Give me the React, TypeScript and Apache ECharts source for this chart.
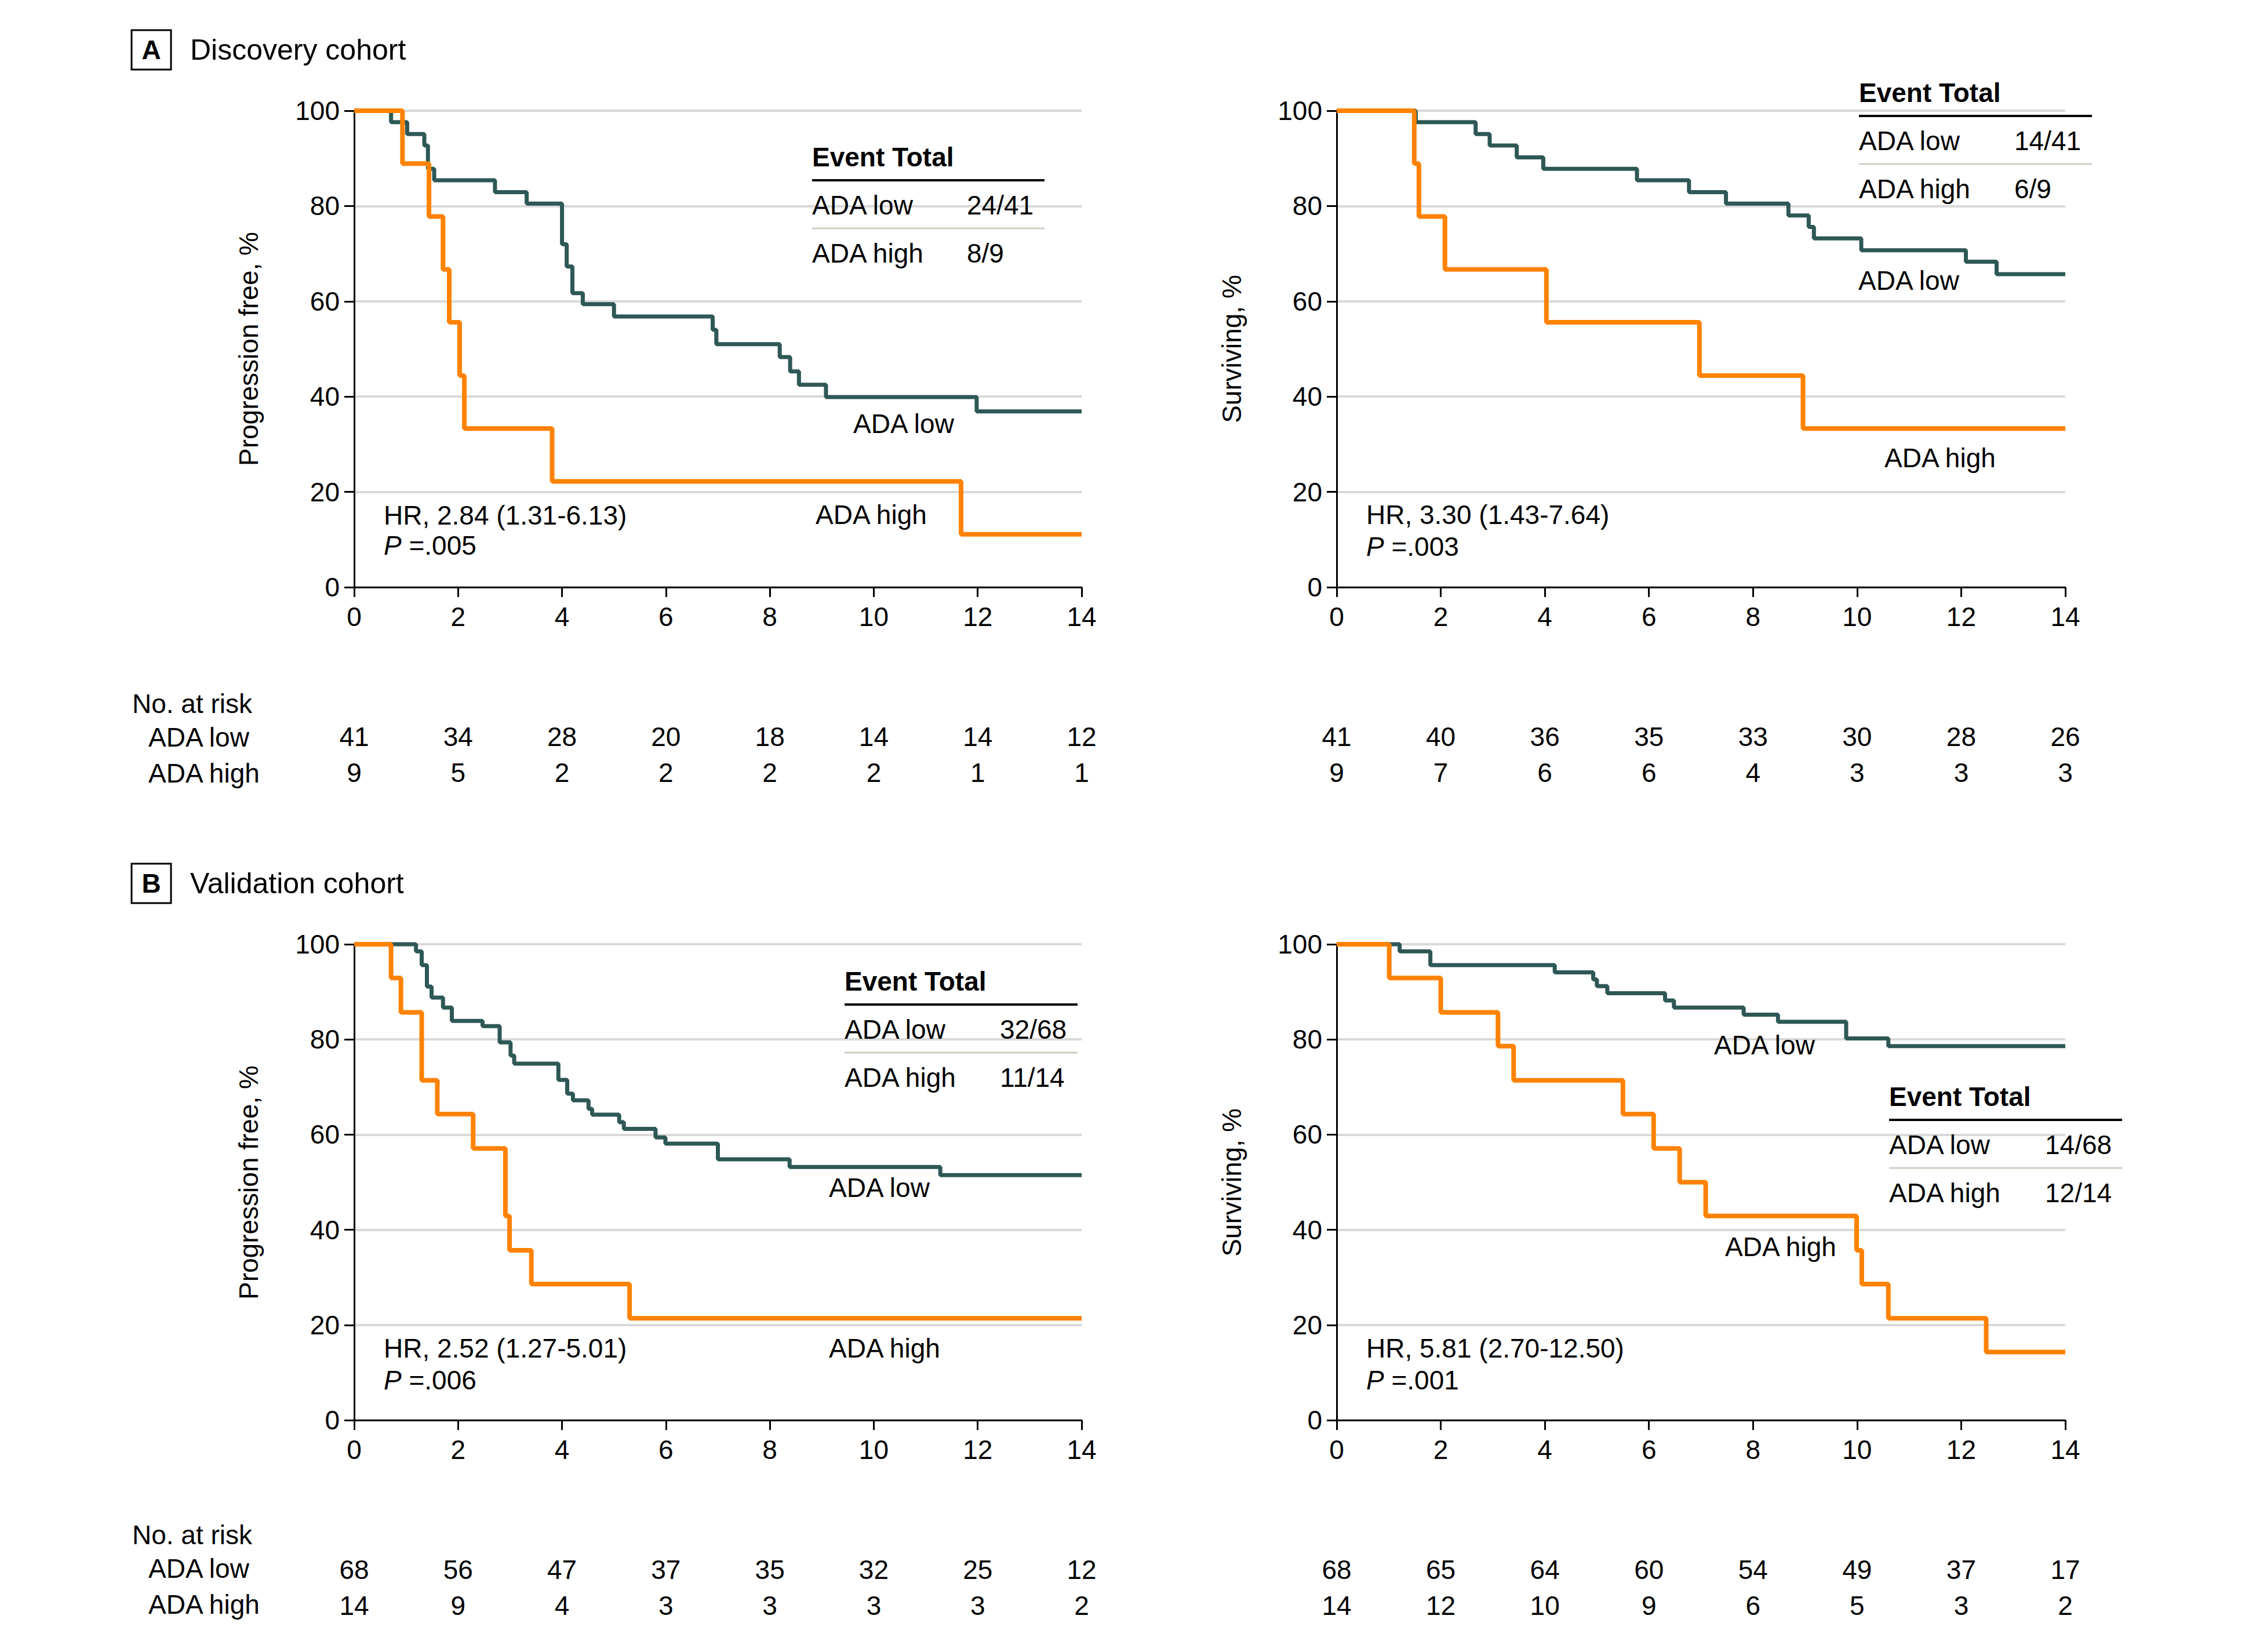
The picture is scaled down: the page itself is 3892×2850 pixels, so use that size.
import React, { useEffect, useRef } from 'react';
import * as echarts from 'echarts';

const FONT = '"Liberation Sans", Arial, sans-serif';
const TEAL = '#2E5856';
const ORANGE = '#FF8200';
const FS = 46;

// Shared axis ticks / risk time points (months)
const riskTimes = [0, 2, 4, 6, 8, 10, 12, 14];

// A – Discovery cohort, progression-free survival
const aPfsLowT = [0, 0.71, 1.02, 1.35, 1.42, 1.54, 2.71, 3.32, 4.0, 4.09, 4.2, 4.4, 5.0, 6.9, 6.97, 8.19, 8.39, 8.56, 9.08, 11.98, 14];
const aPfsLowS = [100, 97.6, 95.1, 92.7, 87.8, 85.4, 82.9, 80.5, 72.0, 67.3, 61.7, 59.4, 56.8, 54.0, 51.0, 48.3, 45.3, 42.5, 39.9, 36.9, 36.9];
const aPfsHighT = [0, 0.93, 1.44, 1.71, 1.83, 2.03, 2.12, 3.81, 11.68, 14];
const aPfsHighS = [100, 88.9, 77.8, 66.7, 55.6, 44.4, 33.3, 22.2, 11.1, 11.1];
const aPfsRiskLow = [41, 34, 28, 20, 18, 14, 14, 12];
const aPfsRiskHigh = [9, 5, 2, 2, 2, 2, 1, 1];

// A – Discovery cohort, overall survival
const aOsLowT = [0, 1.52, 2.67, 2.94, 3.46, 3.97, 5.77, 6.77, 7.48, 8.68, 9.07, 9.17, 10.08, 12.09, 12.68, 14];
const aOsLowS = [100, 97.6, 95.1, 92.7, 90.2, 87.8, 85.4, 82.9, 80.5, 78.0, 75.6, 73.2, 70.7, 68.3, 65.7, 65.7];
const aOsHighT = [0, 1.49, 1.58, 2.08, 4.03, 6.97, 8.96, 14];
const aOsHighS = [100, 88.9, 77.8, 66.7, 55.6, 44.4, 33.3, 33.3];
const aOsRiskLow = [41, 40, 36, 35, 33, 30, 28, 26];
const aOsRiskHigh = [9, 7, 6, 6, 4, 3, 3, 3];

// B – Validation cohort, progression-free survival
const bPfsLowT = [0, 1.19, 1.3, 1.4, 1.49, 1.71, 1.88, 2.47, 2.8, 3.01, 3.08, 3.93, 4.1, 4.21, 4.51, 4.58, 5.1, 5.19, 5.8, 5.99, 7.0, 8.38, 11.28, 14];
const bPfsLowS = [100, 98.5, 95.6, 91.1, 88.8, 86.7, 83.9, 82.8, 79.4, 76.6, 74.9, 71.5, 68.6, 67.2, 65.4, 64.2, 62.6, 61.2, 59.4, 58.1, 54.8, 53.2, 51.5, 51.5];
const bPfsHighT = [0, 0.71, 0.9, 1.3, 1.6, 2.29, 2.91, 2.99, 3.41, 5.3, 14];
const bPfsHighS = [100, 92.9, 85.7, 71.4, 64.3, 57.1, 42.9, 35.7, 28.6, 21.4, 21.4];
const bPfsRiskLow = [68, 56, 47, 37, 35, 32, 25, 12];
const bPfsRiskHigh = [14, 9, 4, 3, 3, 3, 3, 2];

// B – Validation cohort, overall survival
const bOsLowT = [0, 1.21, 1.8, 4.19, 4.93, 5.0, 5.2, 6.31, 6.48, 7.82, 8.48, 9.79, 10.6, 14];
const bOsLowS = [100, 98.5, 95.6, 94.1, 92.6, 91.2, 89.7, 88.2, 86.7, 85.2, 83.7, 80.2, 78.6, 78.6];
const bOsHighT = [0, 1.01, 2.0, 3.1, 3.4, 5.5, 6.09, 6.59, 7.09, 9.99, 10.09, 10.6, 12.48, 14];
const bOsHighS = [100, 92.9, 85.7, 78.6, 71.4, 64.3, 57.1, 50.0, 42.9, 35.7, 28.6, 21.4, 14.3, 14.3];
const bOsRiskLow = [68, 65, 64, 60, 54, 49, 37, 17];
const bOsRiskHigh = [14, 12, 10, 9, 6, 5, 3, 2];

const km = (t: number[], s: number[]) => t.map((v, i) => [v, s[i]]);

const panels = [
  { grid: { left: 611, top: 191, width: 1255, height: 822 }, low: km(aPfsLowT, aPfsLowS), high: km(aPfsHighT, aPfsHighS), riskTop: 1271, rLow: aPfsRiskLow, rHigh: aPfsRiskHigh },
  { grid: { left: 2306, top: 191, width: 1257, height: 822 }, low: km(aOsLowT, aOsLowS), high: km(aOsHighT, aOsHighS), riskTop: 1271, rLow: aOsRiskLow, rHigh: aOsRiskHigh },
  { grid: { left: 611, top: 1629, width: 1255, height: 821 }, low: km(bPfsLowT, bPfsLowS), high: km(bPfsHighT, bPfsHighS), riskTop: 2708, rLow: bPfsRiskLow, rHigh: bPfsRiskHigh },
  { grid: { left: 2306, top: 1629, width: 1257, height: 821 }, low: km(bOsLowT, bOsLowS), high: km(bOsHighT, bOsHighS), riskTop: 2708, rLow: bOsRiskLow, rHigh: bOsRiskHigh },
];

const txt = (x: number, y: number, text: string, extra: any = {}) => ({
  type: 'text',
  x,
  y,
  silent: true,
  rotation: extra.rotation || 0,
  z: 10,
  style: {
    text,
    fontSize: extra.fontSize || FS,
    fontFamily: FONT,
    fontWeight: extra.fontWeight || 'normal',
    fill: '#000',
    align: extra.align || 'left',
    textAlign: extra.align || 'left',
    verticalAlign: 'middle',
    textVerticalAlign: 'middle',
    rich: extra.rich,
  },
});

const hline = (x1: number, x2: number, y: number, color: string, w: number) => ({
  type: 'line',
  silent: true,
  shape: { x1, y1: y, x2, y2: y },
  style: { stroke: color, lineWidth: w },
});

const pText = (x: number, y: number, v: string) =>
  txt(x, y, '{i|P} =' + v, { rich: { i: { fontStyle: 'italic', fontSize: FS, fontFamily: FONT, fill: '#000' } } });

const eventTable = (x: number, numX: number, right: number, yTitle: number, lowTxt: string, highTxt: string) => {
  const d = 83;
  return [
    txt(x, yTitle, 'Event Total', { fontWeight: 'bold' }),
    hline(x, right, yTitle + 40, '#000', 4),
    txt(x, yTitle + d, 'ADA low'),
    txt(numX, yTitle + d, lowTxt),
    hline(x, right, yTitle + 123, '#c9d0c2', 3),
    txt(x, yTitle + 2 * d, 'ADA high'),
    txt(numX, yTitle + 2 * d, highTxt),
  ];
};

const header = (y: number, letter: string, title: string) => [
  { type: 'rect', silent: true, shape: { x: 227, y: y - 34, width: 68, height: 68 }, style: { fill: 'none', stroke: '#000', lineWidth: 3 } },
  txt(261, y, letter, { align: 'center', fontWeight: 'bold' }),
  txt(328, y, title, { fontSize: 50 }),
];

const riskLabels = (y: number) => [
  txt(228, y, 'No. at risk'),
  txt(256, y + 58, 'ADA low'),
  txt(256, y + 120, 'ADA high'),
];

function buildOption() {
  const grids: any[] = [];
  const xAxes: any[] = [];
  const yAxes: any[] = [];
  const series: any[] = [];
  panels.forEach((p, i) => {
    grids.push({ ...p.grid, containLabel: false });
    xAxes.push({
      type: 'value', gridIndex: i, min: 0, max: 14, interval: 2,
      axisLine: { show: true, onZero: false, lineStyle: { color: '#000', width: 3 } },
      axisTick: { show: true, length: 17, lineStyle: { color: '#000', width: 3 } },
      axisLabel: { fontSize: FS, fontFamily: FONT, color: '#000', margin: 28 },
      splitLine: { show: false },
    });
    yAxes.push({
      type: 'value', gridIndex: i, min: 0, max: 100, interval: 20,
      axisLine: { show: true, lineStyle: { color: '#000', width: 3 } },
      axisTick: { show: true, length: 17, lineStyle: { color: '#000', width: 3 } },
      axisLabel: { fontSize: FS, fontFamily: FONT, color: '#000', margin: 25 },
      splitLine: { show: true, lineStyle: { color: '#d9d9d9', width: 4 } },
    });
    series.push({
      type: 'line', xAxisIndex: i, yAxisIndex: i, data: p.low, step: 'end', showSymbol: false,
      lineStyle: { color: TEAL, width: 7 }, itemStyle: { color: TEAL }, z: 3, clip: false, silent: true,
    });
    series.push({
      type: 'line', xAxisIndex: i, yAxisIndex: i, data: p.high, step: 'end', showSymbol: false,
      lineStyle: { color: ORANGE, width: 8 }, itemStyle: { color: ORANGE }, z: 4, clip: false, silent: true,
    });
  });
  panels.forEach((p, i) => {
    const gi = 4 + i;
    grids.push({ left: p.grid.left, width: p.grid.width, top: p.riskTop, height: 62 });
    xAxes.push({ type: 'value', gridIndex: gi, min: 0, max: 14, show: false });
    yAxes.push({ type: 'value', gridIndex: gi, min: 0, max: 1, show: false });
    const data: any[] = [];
    riskTimes.forEach((t, k) => {
      data.push([t, 1, p.rLow[k]]);
      data.push([t, 0, p.rHigh[k]]);
    });
    series.push({
      type: 'custom', xAxisIndex: gi, yAxisIndex: gi, silent: true, data,
      renderItem: (_params: any, api: any) => {
        const pt = api.coord([api.value(0), api.value(1)]);
        return {
          type: 'text',
          x: pt[0],
          y: pt[1],
          style: {
            text: String(api.value(2)),
            fill: '#000',
            fontSize: FS,
            fontFamily: FONT,
            align: 'center',
            verticalAlign: 'middle',
          },
        };
      },
    });
  });

  const graphic: any[] = [
    ...header(86, 'A', 'Discovery cohort'),
    ...header(1524, 'B', 'Validation cohort'),
    txt(429, 602, 'Progression free, %', { rotation: Math.PI / 2, align: 'center' }),
    txt(2125, 602, 'Surviving, %', { rotation: Math.PI / 2, align: 'center' }),
    txt(429, 2040, 'Progression free, %', { rotation: Math.PI / 2, align: 'center' }),
    txt(2125, 2040, 'Surviving, %', { rotation: Math.PI / 2, align: 'center' }),
    // A left
    ...eventTable(1401, 1668, 1802, 271, '24/41', '8/9'),
    txt(1472, 731, 'ADA low'),
    txt(1407, 888, 'ADA high'),
    txt(662, 889, 'HR, 2.84 (1.31-6.13)'),
    pText(662, 941, '.005'),
    // A right
    ...eventTable(3207, 3475, 3609, 160, '14/41', '6/9'),
    txt(3206, 484, 'ADA low'),
    txt(3251, 790, 'ADA high'),
    txt(2357, 888, 'HR, 3.30 (1.43-7.64)'),
    pText(2357, 943, '.003'),
    // B left
    ...eventTable(1457, 1725, 1859, 1693, '32/68', '11/14'),
    txt(1430, 2049, 'ADA low'),
    txt(1430, 2326, 'ADA high'),
    txt(662, 2326, 'HR, 2.52 (1.27-5.01)'),
    pText(662, 2381, '.006'),
    // B right
    ...eventTable(3259, 3528, 3661, 1892, '14/68', '12/14'),
    txt(2957, 1803, 'ADA low'),
    txt(2976, 2151, 'ADA high'),
    txt(2357, 2326, 'HR, 5.81 (2.70-12.50)'),
    pText(2357, 2381, '.001'),
    // risk table labels
    ...riskLabels(1214),
    ...riskLabels(2648),
  ];

  return {
    animation: false,
    backgroundColor: '#ffffff',
    textStyle: { fontFamily: FONT },
    grid: grids,
    xAxis: xAxes,
    yAxis: yAxes,
    series,
    graphic,
  };
}

export default function App() {
  const ref = useRef<HTMLDivElement>(null);
  useEffect(() => {
    if (!ref.current) return;
    const chart = echarts.init(ref.current, undefined, { renderer: 'svg' });
    chart.setOption(buildOption() as any);
    return () => chart.dispose();
  }, []);
  return (
    <div
      ref={ref}
      style={{ position: 'absolute', left: 0, top: 0, width: 3892, height: 2850, background: '#fff' }}
    />
  );
}
